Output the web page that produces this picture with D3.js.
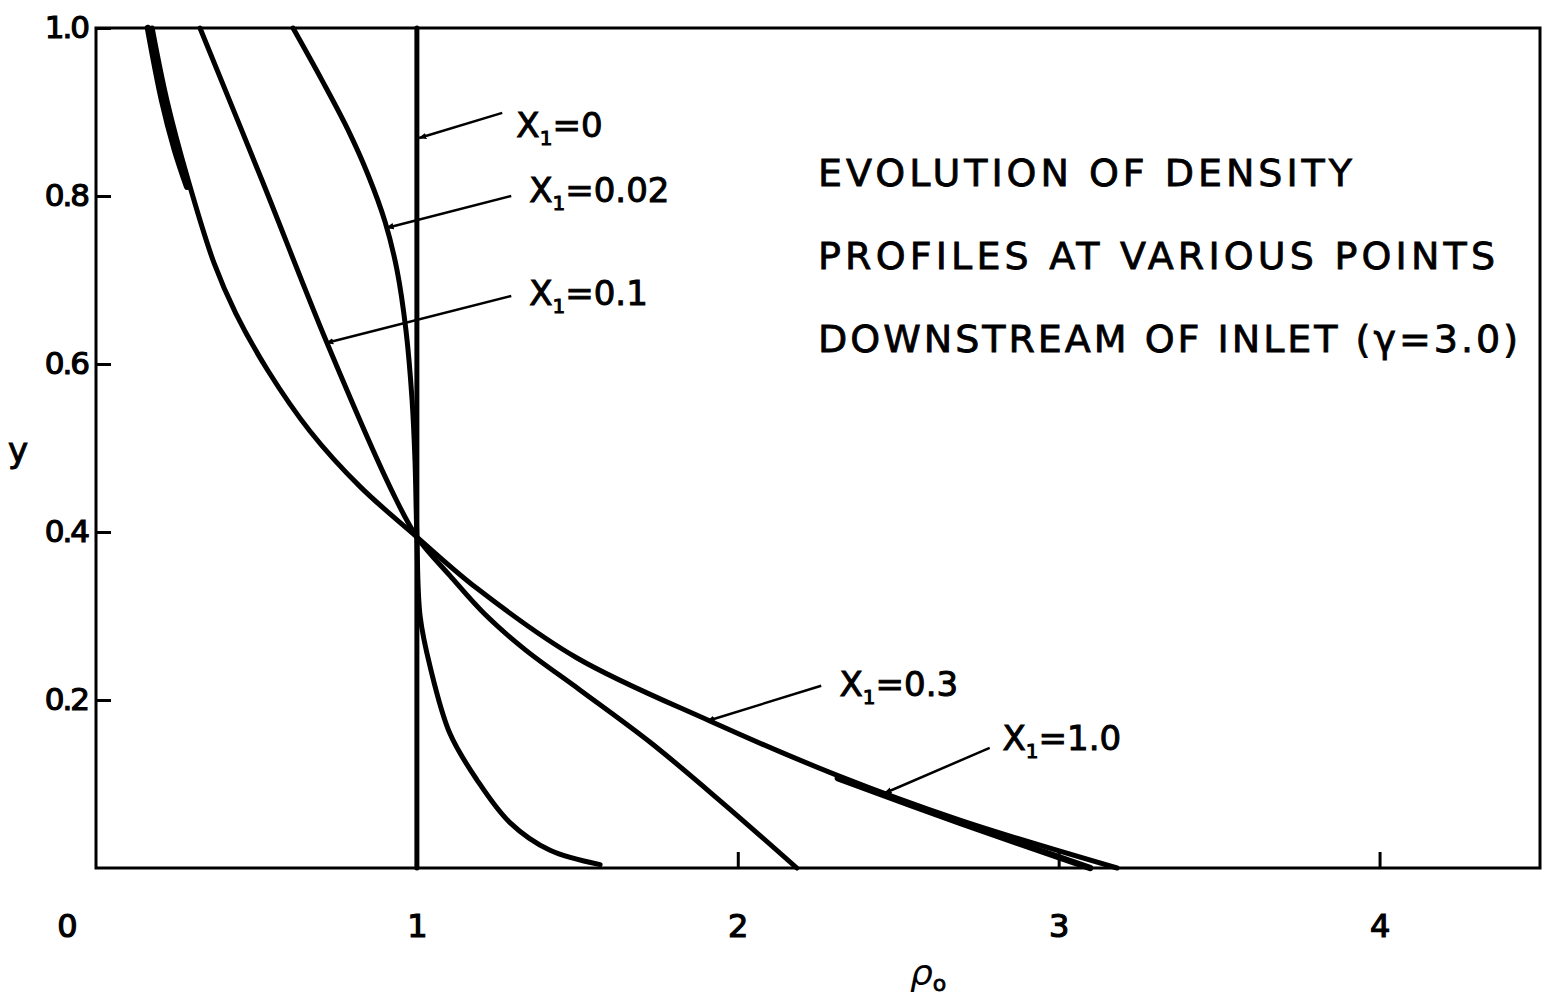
<!DOCTYPE html>
<html>
<head>
<meta charset="utf-8">
<script src="https://cdn.jsdelivr.net/npm/d3@7"></script>
<style>
  body { margin: 0; background: #fff; }
  text { font-family: "DejaVu Sans", sans-serif; fill: #000; }
</style>
</head>
<body>
<div id="chart"></div>
<script>
// density profiles, points as [rho0, y], listed from y = 1 down to y = 0
var profileX0 = [[1.0, 1.0], [1.0, 0.0]];
var profileX002 = [[0.614, 1.0], [0.704, 0.938], [0.785, 0.879], [0.848, 0.825], [0.901, 0.769], [0.938, 0.712],
  [0.966, 0.64], [0.985, 0.557], [0.994, 0.486], [1.0, 0.394], [1.010, 0.30], [1.041, 0.240],
  [1.103, 0.160], [1.187, 0.105], [1.29, 0.054], [1.415, 0.021], [1.571, 0.004]];
var profileX01 = [[0.324, 1.0], [0.517, 0.819], [0.72, 0.625], [0.922, 0.449], [1.0, 0.394],
  [1.103, 0.348], [1.212, 0.302], [1.337, 0.260], [1.508, 0.212], [1.726, 0.150], [1.945, 0.080], [2.184, 0.0]];
var profileX03 = [[0.175, 1.0], [0.221, 0.914], [0.287, 0.819], [0.368, 0.72], [0.436, 0.66],
  [0.536, 0.592], [0.667, 0.52], [0.823, 0.454], [1.0, 0.394], [1.187, 0.333], [1.499, 0.25],
  [1.913, 0.175], [2.312, 0.11], [2.692, 0.057], [3.182, 0.0]];
// X1 = 1.0 only shows where it leaves the X1 = 0.3 curve
var profileX1top = [[0.162, 1.0], [0.206, 0.914], [0.246, 0.855], [0.284, 0.811]];
var profileX1bottom = [[2.312, 0.107], [2.692, 0.054], [3.098, 0.0]];

var curves = [profileX0, profileX002, profileX01, profileX03, profileX1top, profileX1bottom];

var labels = [
  { sub: "=0",    text: [1.31, 0.885],  tail: [1.266, 0.899], head: [1.007, 0.869] },
  { sub: "=0.02", text: [1.35, 0.807],  tail: [1.294, 0.80],  head: [0.905, 0.762] },
  { sub: "=0.1",  text: [1.35, 0.685],  tail: [1.294, 0.681], head: [0.717, 0.625] },
  { sub: "=0.3",  text: [2.317, 0.219], tail: [2.26, 0.217],  head: [1.905, 0.175] },
  { sub: "=1.0",  text: [2.825, 0.155], tail: [2.785, 0.143], head: [2.457, 0.089] }
];

var xTicks = [0, 1, 2, 3, 4];
var yTicks = [0.2, 0.4, 0.6, 0.8, 1.0];
var titleLines = ["EVOLUTION  OF  DENSITY", "PROFILES  AT  VARIOUS  POINTS", "DOWNSTREAM  OF  INLET (\u03b3=3.0)"];

var W = 1547, H = 995;
var margin = { top: 28, right: 7, bottom: 127, left: 96 };
var width = W - margin.left - margin.right;
var height = H - margin.top - margin.bottom;

var svg = d3.select("#chart").append("svg")
  .attr("width", W).attr("height", H);

var x = d3.scaleLinear().domain([0, 4.5]).range([margin.left, margin.left + width]);
var y = d3.scaleLinear().domain([0, 1]).range([margin.top + height, margin.top]);

svg.append("defs").append("marker")
  .attr("id", "arrow")
  .attr("viewBox", "0 0 10 10")
  .attr("refX", 9).attr("refY", 5)
  .attr("markerWidth", 8).attr("markerHeight", 8)
  .attr("markerUnits", "userSpaceOnUse")
  .attr("orient", "auto")
  .append("path").attr("d", "M0,1 L10,5 L0,9 Z").attr("fill", "#000");

// frame
svg.append("rect")
  .attr("x", x(0)).attr("y", y(1))
  .attr("width", x(4.5) - x(0)).attr("height", y(0) - y(1))
  .attr("fill", "none").attr("stroke", "#000").attr("stroke-width", 3);

var xAxis = svg.append("g")
  .attr("transform", "translate(0," + y(0) + ")")
  .call(d3.axisBottom(x).tickValues(xTicks).tickFormat(d3.format("d")).tickSize(-16).tickPadding(46));
xAxis.select(".domain").remove();
xAxis.selectAll("line").attr("stroke-width", 3).filter(d => d === 0).remove();
xAxis.selectAll("text").style("font-size", "32px").attr("font-family", "DejaVu Sans")
  .attr("stroke", "#000").attr("stroke-width", 1.2);
xAxis.selectAll(".tick").filter(d => d === 0).select("text").attr("x", -29);

var yAxis = svg.append("g")
  .attr("transform", "translate(" + x(0) + ",0)")
  .call(d3.axisLeft(y).tickValues(yTicks).tickFormat(d3.format(".1f")).tickSize(-15).tickPadding(8));
yAxis.select(".domain").remove();
yAxis.selectAll("line").attr("stroke-width", 3);
yAxis.selectAll("text").style("font-size", "31px").attr("font-family", "DejaVu Sans")
  .attr("letter-spacing", "-2px").attr("stroke", "#000").attr("stroke-width", 1.2);

var line = d3.line()
  .x(d => x(d[0]))
  .y(d => y(d[1]))
  .curve(d3.curveCatmullRom.alpha(0.5));

svg.append("g").selectAll("path")
  .data(curves)
  .enter().append("path")
  .attr("d", line)
  .attr("fill", "none")
  .attr("stroke", "#000")
  .attr("stroke-width", (d, i) => i >= 4 ? 6.5 : 5)
  .attr("stroke-linecap", "round")
  .attr("stroke-linejoin", "round");

// callouts
svg.append("g").selectAll("line")
  .data(labels)
  .enter().append("line")
  .attr("x1", d => x(d.tail[0])).attr("y1", d => y(d.tail[1]))
  .attr("x2", d => x(d.head[0])).attr("y2", d => y(d.head[1]))
  .attr("stroke", "#000").attr("stroke-width", 2.5)
  .attr("marker-end", "url(#arrow)");

var lab = svg.append("g").selectAll("text")
  .data(labels)
  .enter().append("text")
  .attr("x", d => x(d.text[0]))
  .attr("y", d => y(d.text[1]) + 12)
  .style("font-size", "34px")
  .attr("stroke", "#000").attr("stroke-width", 1);
lab.append("tspan").text("X");
lab.append("tspan").text("1").style("font-size", "20px").attr("dy", 8);
lab.append("tspan").text(d => d.sub).attr("dy", -8);

// title block
svg.append("g").selectAll("text")
  .data(titleLines)
  .enter().append("text")
  .attr("x", 818)
  .attr("y", (d, i) => 186 + i * 83)
  .attr("textLength", (d, i) => [534, 677, 700][i])
  .attr("lengthAdjust", "spacing")
  .style("font-size", "38px")
  .attr("stroke", "#000").attr("stroke-width", 0.8)
  .text(d => d);

svg.append("text")
  .attr("x", 18).attr("y", 462)
  .attr("text-anchor", "middle")
  .style("font-size", "34px").attr("stroke", "#000").attr("stroke-width", 1)
  .text("y");

var xl = svg.append("text")
  .attr("x", 910).attr("y", 985)
  .style("font-size", "36px");
xl.append("tspan").text("\u03c1").style("font-style", "italic");
xl.append("tspan").text("o").style("font-size", "22px").attr("dy", 6).attr("stroke", "#000").attr("stroke-width", 0.8);
</script>
</body>
</html>
